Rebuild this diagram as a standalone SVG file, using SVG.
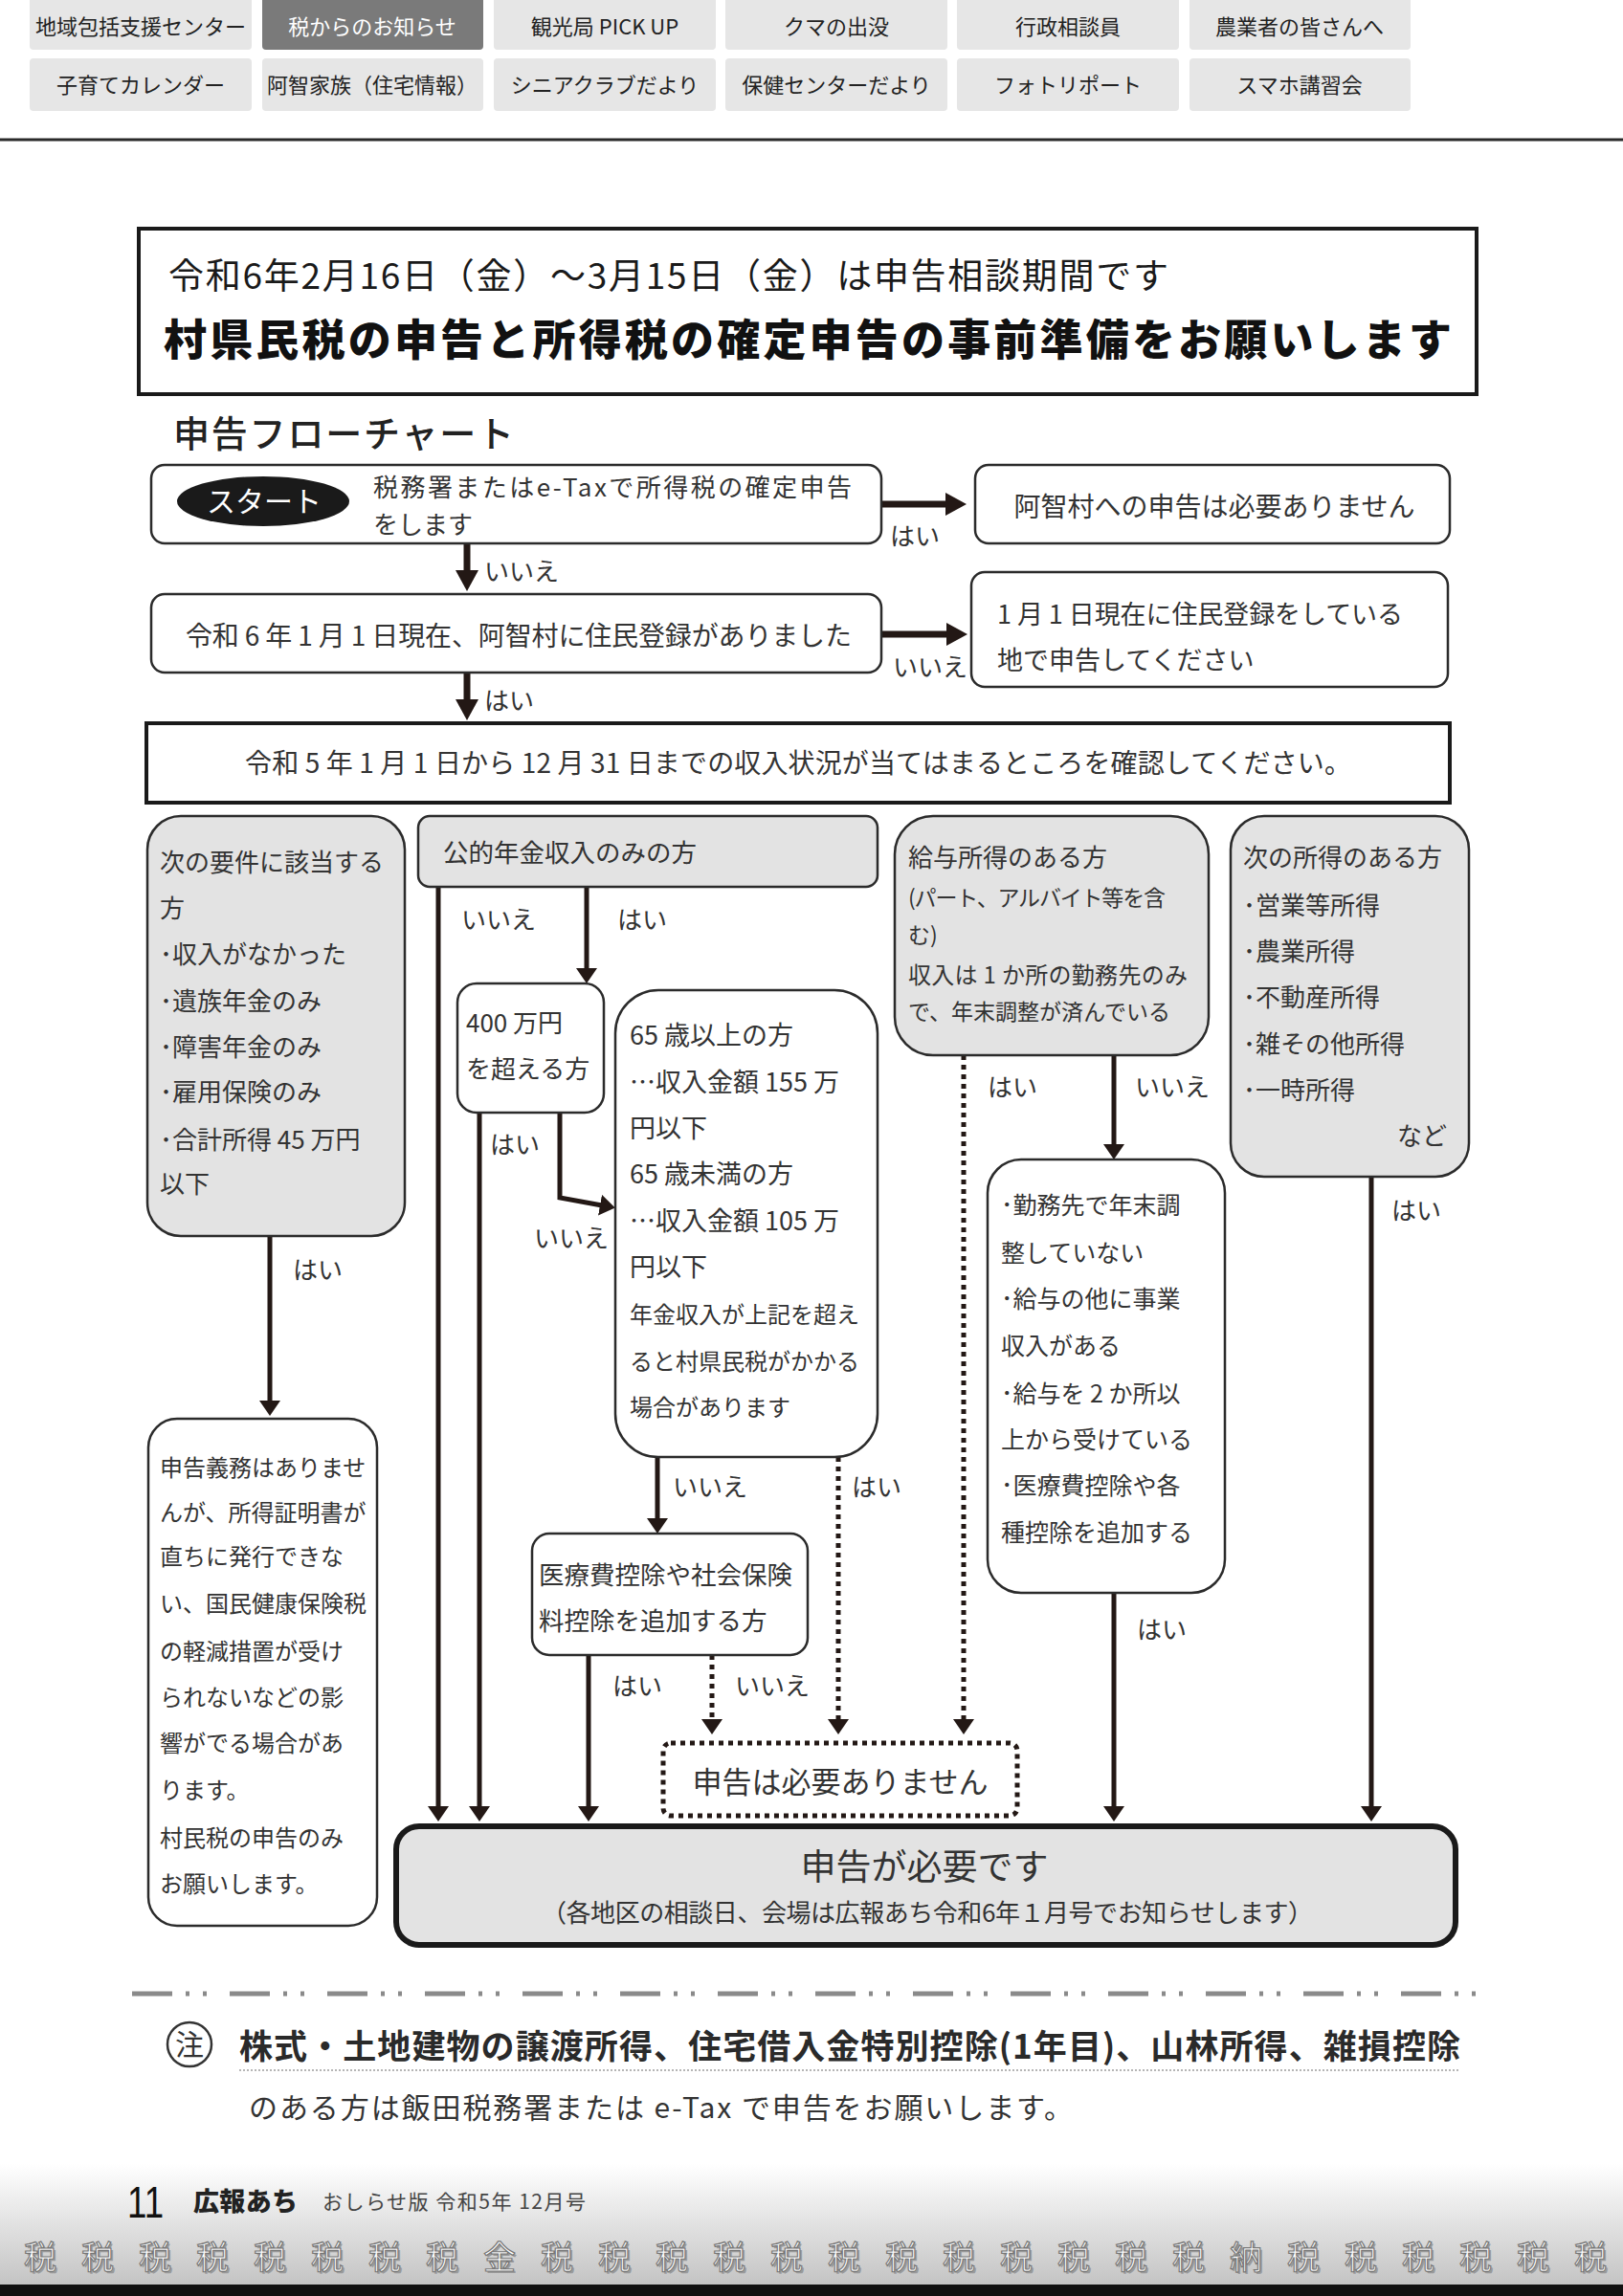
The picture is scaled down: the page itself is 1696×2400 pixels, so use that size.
<svg xmlns="http://www.w3.org/2000/svg" width="1696" height="2400" viewBox="0 0 1696 2400">
<defs>
<style>
.t{font-family:'Noto Sans CJK JP','Noto Sans',sans-serif;fill:#333;}
.nav{font-family:'Noto Sans CJK JP','Noto Sans',sans-serif;fill:#222;font-size:22px;text-anchor:middle;}
.btn{fill:#e6e6e6;}
.box{fill:#fff;stroke:#2b2b2b;stroke-width:2.5;}
.gbox{fill:#e3e3e3;stroke:#2b2b2b;stroke-width:2.5;}
.ln{stroke:#231815;stroke-width:5;fill:none;}
.lnL{stroke:#231815;stroke-width:7;fill:none;}
.dot{stroke:#231815;stroke-width:5;stroke-dasharray:5 5;fill:none;}
.lab{font-family:'Noto Sans CJK JP','Noto Sans',sans-serif;fill:#333;font-size:26px;}
.zei{font-family:'Noto Sans CJK JP','Noto Sans',sans-serif;font-size:34px;fill:#fff;stroke:#777;stroke-width:1.2;text-anchor:middle;}
.zeis{font-family:'Noto Sans CJK JP','Noto Sans',sans-serif;font-size:34px;fill:#9a9a9a;text-anchor:middle;}
</style>
<marker id="ah" viewBox="0 0 16 22" refX="2" refY="11" markerWidth="16" markerHeight="22" markerUnits="userSpaceOnUse" orient="auto"><path d="M0,0 L16,11 L0,22 z" fill="#231815"/></marker>
<marker id="ahL" viewBox="0 0 22 24" refX="2" refY="12" markerWidth="22" markerHeight="24" markerUnits="userSpaceOnUse" orient="auto"><path d="M0,0 L22,12 L0,24 z" fill="#231815"/></marker>
<linearGradient id="foot" x1="0" y1="0" x2="0" y2="1"><stop offset="0" stop-color="#ffffff"/><stop offset="1" stop-color="#c2c2c2"/></linearGradient>
</defs>
<rect width="1696" height="2400" fill="#fff"/>

<g id="nav">
<rect class="btn" x="31" y="-6" width="232" height="58" rx="4"/>
<rect x="274" y="-6" width="231" height="58" rx="4" fill="#7a7a7a"/>
<rect class="btn" x="516" y="-6" width="232" height="58" rx="4"/>
<rect class="btn" x="758" y="-6" width="232" height="58" rx="4"/>
<rect class="btn" x="1000" y="-6" width="232" height="58" rx="4"/>
<rect class="btn" x="1243" y="-6" width="231" height="58" rx="4"/>
<rect class="btn" x="31" y="61" width="232" height="55" rx="4"/>
<rect class="btn" x="274" y="61" width="231" height="55" rx="4"/>
<rect class="btn" x="516" y="61" width="232" height="55" rx="4"/>
<rect class="btn" x="758" y="61" width="232" height="55" rx="4"/>
<rect class="btn" x="1000" y="61" width="232" height="55" rx="4"/>
<rect class="btn" x="1243" y="61" width="231" height="55" rx="4"/>
<text class="nav" x="147" y="36">地域包括支援センター</text>
<text class="nav" x="389" y="36" style="fill:#fff">税からのお知らせ</text>
<text class="nav" x="632" y="36">観光局 PICK UP</text>
<text class="nav" x="874" y="36">クマの出没</text>
<text class="nav" x="1116" y="36">行政相談員</text>
<text class="nav" x="1358" y="36">農業者の皆さんへ</text>
<text class="nav" x="147" y="97">子育てカレンダー</text>
<text class="nav" x="389" y="97">阿智家族（住宅情報）</text>
<text class="nav" x="632" y="97">シニアクラブだより</text>
<text class="nav" x="874" y="97">保健センターだより</text>
<text class="nav" x="1116" y="97">フォトリポート</text>
<text class="nav" x="1358" y="97">スマホ講習会</text>
<line x1="0" y1="146" x2="1696" y2="146" stroke="#2a2a2a" stroke-width="3"/>
</g>

<g id="header">
<rect x="145" y="239" width="1398" height="173" fill="#fff" stroke="#1a1a1a" stroke-width="4"/>
<text class="t" x="176" y="302" font-size="37" textLength="1045" style="fill:#1a1a1a">令和6年2月16日（金）～3月15日（金）は申告相談期間です</text>
<text class="t" x="171" y="372" font-size="45" font-weight="900" textLength="1346" style="fill:#111">村県民税の申告と所得税の確定申告の事前準備をお願いします</text>
</g>

<text class="t" x="181" y="467" font-size="38" font-weight="500" textLength="356" style="fill:#222">申告フローチャート</text>

<g id="connectors">
<line class="lnL" x1="921" y1="527" x2="990" y2="527" marker-end="url(#ahL)"/>
<line class="lnL" x1="488" y1="568" x2="488" y2="598" marker-end="url(#ahL)"/>
<line class="lnL" x1="921" y1="663" x2="991" y2="663" marker-end="url(#ahL)"/>
<line class="lnL" x1="488" y1="703" x2="488" y2="733" marker-end="url(#ahL)"/>
<line class="ln" x1="282" y1="1292" x2="282" y2="1466" stroke-width="4" marker-end="url(#ah)"/>
<line class="ln" x1="458" y1="927" x2="458" y2="1890" marker-end="url(#ah)"/>
<line class="ln" x1="613" y1="927" x2="613" y2="1014" stroke-width="6" marker-end="url(#ah)"/>
<line class="ln" x1="501" y1="1163" x2="501" y2="1890" marker-end="url(#ah)"/>
<polyline class="ln" points="585,1163 585,1252 629,1260" stroke-width="6" marker-end="url(#ah)"/>
<line class="ln" x1="687" y1="1523" x2="687" y2="1589" stroke-width="6" marker-end="url(#ah)"/>
<line class="dot" x1="876" y1="1523" x2="876" y2="1799" marker-end="url(#ah)"/>
<line class="ln" x1="615" y1="1730" x2="615" y2="1890" marker-end="url(#ah)"/>
<line class="dot" x1="744" y1="1730" x2="744" y2="1799" marker-end="url(#ah)"/>
<line class="dot" x1="1007" y1="1103" x2="1007" y2="1799" marker-end="url(#ah)"/>
<line class="ln" x1="1164" y1="1103" x2="1164" y2="1198" marker-end="url(#ah)"/>
<line class="ln" x1="1164" y1="1665" x2="1164" y2="1890" marker-end="url(#ah)"/>
<line class="ln" x1="1433" y1="1230" x2="1433" y2="1890" marker-end="url(#ah)"/>
<text class="lab" x="930" y="570">はい</text>
<text class="lab" x="506" y="607">いいえ</text>
<text class="lab" x="933" y="707">いいえ</text>
<text class="lab" x="506" y="742">はい</text>
<text class="lab" x="306" y="1337">はい</text>
<text class="lab" x="482" y="971">いいえ</text>
<text class="lab" x="645" y="971">はい</text>
<text class="lab" x="512" y="1206">はい</text>
<text class="lab" x="558" y="1304">いいえ</text>
<text class="lab" x="703" y="1564">いいえ</text>
<text class="lab" x="890" y="1564">はい</text>
<text class="lab" x="640" y="1772">はい</text>
<text class="lab" x="768" y="1772">いいえ</text>
<text class="lab" x="1032" y="1146">はい</text>
<text class="lab" x="1186" y="1146">いいえ</text>
<text class="lab" x="1188" y="1713">はい</text>
<text class="lab" x="1454" y="1275">はい</text>
</g>

<g id="start">
<rect class="box" x="158" y="486" width="763" height="82" rx="14"/>
<ellipse cx="275" cy="524" rx="90" ry="26" fill="#1a1a1a"/>
<text class="t" x="276" y="535" font-size="30" text-anchor="middle" style="fill:#fff">スタート</text>
<text class="t" x="390" y="519" font-size="26" textLength="500">税務署またはe-Taxで所得税の確定申告</text>
<text class="t" x="390" y="558" font-size="26">をします</text>
</g>

<g id="no-need-achi">
<rect class="box" x="1019" y="486" width="496" height="82" rx="14"/>
<text class="t" x="1269" y="540" font-size="28" text-anchor="middle">阿智村への申告は必要ありません</text>
</g>

<g id="resident">
<rect class="box" x="158" y="621" width="763" height="82" rx="14"/>
<text class="t" x="194" y="675" font-size="28" textLength="696">令和 6 年 1 月 1 日現在、阿智村に住民登録がありました</text>
</g>

<g id="other-place">
<rect class="box" x="1015" y="598" width="498" height="120" rx="14"/>
<text class="t" x="1042" y="652" font-size="27" textLength="424">1 月 1 日現在に住民登録をしている</text>
<text class="t" x="1042" y="700" font-size="27">地で申告してください</text>
</g>

<g id="check">
<rect x="153" y="756" width="1362" height="83" fill="#fff" stroke="#1a1a1a" stroke-width="4"/>
<text class="t" x="834" y="808" font-size="28" text-anchor="middle" textLength="1156">令和 5 年 1 月 1 日から 12 月 31 日までの収入状況が当てはまるところを確認してください。</text>
</g>

<g id="col1">
<rect class="gbox" x="154" y="853" width="269" height="439" rx="35"/>
<text class="t" font-size="26">
<tspan x="167" y="911">次の要件に該当する</tspan>
<tspan x="167" y="959">方</tspan>
<tspan x="167" y="1007">･収入がなかった</tspan>
<tspan x="167" y="1056">･遺族年金のみ</tspan>
<tspan x="167" y="1104">･障害年金のみ</tspan>
<tspan x="167" y="1151">･雇用保険のみ</tspan>
<tspan x="167" y="1201">･合計所得 45 万円</tspan>
<tspan x="167" y="1247">以下</tspan>
</text>
</g>

<g id="col1-result">
<rect class="box" x="155" y="1483" width="239" height="530" rx="30"/>
<text class="t" font-size="24">
<tspan x="167" y="1543">申告義務はありませ</tspan>
<tspan x="167" y="1590">んが、所得証明書が</tspan>
<tspan x="167" y="1636">直ちに発行できな</tspan>
<tspan x="167" y="1685">い、国民健康保険税</tspan>
<tspan x="167" y="1735">の軽減措置が受け</tspan>
<tspan x="167" y="1783">られないなどの影</tspan>
<tspan x="167" y="1831">響がでる場合があ</tspan>
<tspan x="167" y="1880">ります。</tspan>
<tspan x="167" y="1930">村民税の申告のみ</tspan>
<tspan x="167" y="1978">お願いします。</tspan>
</text>
</g>

<g id="pension">
<rect class="gbox" x="437" y="853" width="480" height="74" rx="12"/>
<text class="t" x="463" y="901" font-size="26.5">公的年金収入のみの方</text>
</g>

<g id="over400">
<rect class="box" x="478" y="1028" width="153" height="135" rx="20"/>
<text class="t" font-size="26">
<tspan x="487" y="1079">400 万円</tspan>
<tspan x="487" y="1127">を超える方</tspan>
</text>
</g>

<g id="age65">
<rect class="box" x="643" y="1035" width="274" height="488" rx="45"/>
<text class="t" font-size="27">
<tspan x="658" y="1092">65 歳以上の方</tspan>
<tspan x="658" y="1141">…収入金額 155 万</tspan>
<tspan x="658" y="1189">円以下</tspan>
<tspan x="658" y="1237">65 歳未満の方</tspan>
<tspan x="658" y="1286">…収入金額 105 万</tspan>
<tspan x="658" y="1334">円以下</tspan>
</text>
<text class="t" font-size="24">
<tspan x="658" y="1383">年金収入が上記を超え</tspan>
<tspan x="658" y="1432">ると村県民税がかかる</tspan>
<tspan x="658" y="1480">場合があります</tspan>
</text>
</g>

<g id="medical">
<rect class="box" x="556" y="1603" width="288" height="127" rx="18"/>
<text class="t" font-size="26.5">
<tspan x="563" y="1656">医療費控除や社会保険</tspan>
<tspan x="563" y="1704">料控除を追加する方</tspan>
</text>
</g>

<g id="salary">
<rect class="gbox" x="935" y="853" width="328" height="250" rx="40"/>
<text class="t" x="949" y="906" font-size="26">給与所得のある方</text>
<text class="t" x="949" y="947" font-size="23" textLength="269">(パート、アルバイト等を含</text>
<text class="t" x="949" y="986" font-size="23">む)</text>
<text class="t" x="949" y="1028" font-size="24" textLength="292">収入は 1 か所の勤務先のみ</text>
<text class="t" x="949" y="1066" font-size="23" textLength="274">で、年末調整が済んでいる</text>
</g>

<g id="employer">
<rect class="box" x="1032" y="1212" width="248" height="453" rx="35"/>
<text class="t" font-size="25">
<tspan x="1046" y="1269">･勤務先で年末調</tspan>
<tspan x="1046" y="1319">整していない</tspan>
<tspan x="1046" y="1367">･給与の他に事業</tspan>
<tspan x="1046" y="1416">収入がある</tspan>
<tspan x="1046" y="1466">･給与を 2 か所以</tspan>
<tspan x="1046" y="1514">上から受けている</tspan>
<tspan x="1046" y="1562">･医療費控除や各</tspan>
<tspan x="1046" y="1611">種控除を追加する</tspan>
</text>
</g>

<g id="other-income">
<rect class="gbox" x="1286" y="853" width="249" height="377" rx="35"/>
<text class="t" font-size="26">
<tspan x="1299" y="906">次の所得のある方</tspan>
<tspan x="1299" y="956">･営業等所得</tspan>
<tspan x="1299" y="1004">･農業所得</tspan>
<tspan x="1299" y="1052">･不動産所得</tspan>
<tspan x="1299" y="1101">･雑その他所得</tspan>
<tspan x="1299" y="1149">･一時所得</tspan>
</text>
<text class="t" x="1512" y="1197" font-size="26" text-anchor="end">など</text>
</g>

<g id="no-need">
<rect x="693" y="1822" width="370" height="76" rx="8" fill="#fff" stroke="#231815" stroke-width="5" stroke-dasharray="5 5"/>
<text class="t" x="878" y="1874" font-size="31" text-anchor="middle">申告は必要ありません</text>
</g>

<g id="need">
<rect x="414" y="1909" width="1107" height="124" rx="24" fill="#e3e3e3" stroke="#1a1a1a" stroke-width="6"/>
<text class="t" x="966" y="1965" font-size="37" text-anchor="middle">申告が必要です</text>
<text class="t" x="969" y="2009" font-size="26" text-anchor="middle" textLength="806">（各地区の相談日、会場は広報あち令和6年１月号でお知らせします）</text>
</g>

<g id="note">
<line x1="138" y1="2084" x2="1556" y2="2084" stroke="#8a8a8a" stroke-width="5" stroke-dasharray="42 14 4 14 4 24"/>
<circle cx="198" cy="2137" r="23" fill="none" stroke="#333" stroke-width="2.5"/>
<text class="t" x="198" y="2148" font-size="30" text-anchor="middle">注</text>
<text class="t" x="250" y="2152" font-size="35" font-weight="700" textLength="1276" style="fill:#2a2a2a">株式・土地建物の譲渡所得、住宅借入金特別控除(1年目)、山林所得、雑損控除</text>
<line x1="250" y1="2164" x2="1526" y2="2164" stroke="#b5b5b5" stroke-width="2" stroke-dasharray="2 2"/>
<text class="t" x="260" y="2214" font-size="30" textLength="861">のある方は飯田税務署または e-Tax で申告をお願いします。</text>
</g>

<g id="footer">
<rect x="0" y="2262" width="1696" height="130" fill="url(#foot)"/>
<rect x="0" y="2388" width="1696" height="12" fill="#111"/>
<text x="133" y="2318" font-family="'Liberation Sans',sans-serif" font-size="46" textLength="38" lengthAdjust="spacingAndGlyphs" fill="#111">11</text>
<text class="t" x="202" y="2311" font-size="27" font-weight="900" textLength="109" style="fill:#222">広報あち</text>
<text class="t" x="337" y="2309" font-size="21" textLength="275" style="fill:#444">おしらせ版 令和5年 12月号</text>
<g class="zeis" transform="translate(2,2)">
<text x="42" y="2372">税</text><text x="102" y="2372">税</text><text x="162" y="2372">税</text><text x="222" y="2372">税</text><text x="282" y="2372">税</text><text x="342" y="2372">税</text><text x="402" y="2372">税</text><text x="462" y="2372">税</text><text x="522" y="2372">金</text><text x="582" y="2372">税</text><text x="642" y="2372">税</text><text x="702" y="2372">税</text><text x="762" y="2372">税</text><text x="822" y="2372">税</text><text x="882" y="2372">税</text><text x="942" y="2372">税</text><text x="1002" y="2372">税</text><text x="1062" y="2372">税</text><text x="1122" y="2372">税</text><text x="1182" y="2372">税</text><text x="1242" y="2372">税</text><text x="1302" y="2372">納</text><text x="1362" y="2372">税</text><text x="1422" y="2372">税</text><text x="1482" y="2372">税</text><text x="1542" y="2372">税</text><text x="1602" y="2372">税</text><text x="1662" y="2372">税</text>
</g>
<g class="zei">
<text x="42" y="2372">税</text><text x="102" y="2372">税</text><text x="162" y="2372">税</text><text x="222" y="2372">税</text><text x="282" y="2372">税</text><text x="342" y="2372">税</text><text x="402" y="2372">税</text><text x="462" y="2372">税</text><text x="522" y="2372">金</text><text x="582" y="2372">税</text><text x="642" y="2372">税</text><text x="702" y="2372">税</text><text x="762" y="2372">税</text><text x="822" y="2372">税</text><text x="882" y="2372">税</text><text x="942" y="2372">税</text><text x="1002" y="2372">税</text><text x="1062" y="2372">税</text><text x="1122" y="2372">税</text><text x="1182" y="2372">税</text><text x="1242" y="2372">税</text><text x="1302" y="2372">納</text><text x="1362" y="2372">税</text><text x="1422" y="2372">税</text><text x="1482" y="2372">税</text><text x="1542" y="2372">税</text><text x="1602" y="2372">税</text><text x="1662" y="2372">税</text>
</g>
</g>
</svg>
